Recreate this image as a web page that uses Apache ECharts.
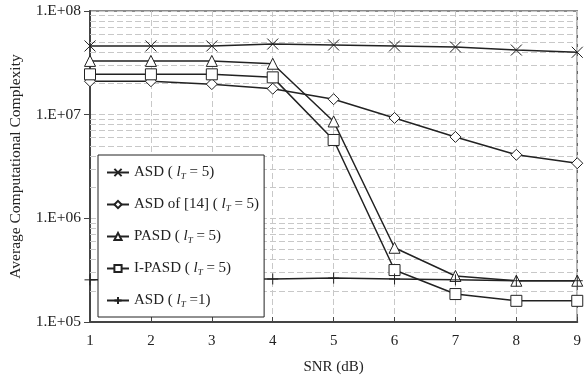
<!DOCTYPE html>
<html>
<head>
<meta charset="utf-8">
<script src="https://cdn.jsdelivr.net/npm/echarts@6/dist/echarts.min.js"></script>
<style>
  html, body { margin: 0; padding: 0; background: #fff; }
  #chart { width: 584px; height: 385px; }
</style>
</head>
<body>
<div id="chart"></div>
<script>
// SNR values (dB)
var snr = [1, 2, 3, 4, 5, 6, 7, 8, 9]

// average computational complexity
var asd5     = [4.6e7, 4.6e7, 4.6e7, 4.8e7, 4.7e7, 4.6e7, 4.5e7, 4.2e7, 4.0e7]
var asdRef14 = [2.1e7, 2.1e7, 1.97e7, 1.78e7, 1.41e7, 9.3e6, 6.1e6, 4.1e6, 3.4e6]
var pasd     = [3.3e7, 3.3e7, 3.3e7, 3.1e7, 8.6e6, 5.2e5, 2.78e5, 2.5e5, 2.5e5]
var ipasd    = [2.45e7, 2.45e7, 2.45e7, 2.29e7, 5.7e6, 3.17e5, 1.86e5, 1.6e5, 1.6e5]
var asd1     = [2.55e5, 2.55e5, 2.6e5, 2.6e5, 2.65e5, 2.6e5, 2.55e5, 2.5e5, 2.5e5]

var seriesNames = ['ASD5', 'ASD14', 'PASD', 'IPASD', 'ASD1']
var legendText = {
  ASD5: '{n|ASD ( }{i|l}{s|T}{n| = 5)}',
  ASD14: '{n|ASD of [14] ( }{i|l}{s|T}{n| = 5)}',
  PASD: '{n|PASD ( }{i|l}{s|T}{n| = 5)}',
  IPASD: '{n|I-PASD ( }{i|l}{s|T}{n| = 5)}',
  ASD1: '{n|ASD ( }{i|l}{s|T}{n| =1)}'
}

// minor log grid lines 2..9 x 10^n
var minorTicks = []
;[1e5, 1e6, 1e7].forEach(function (d) {
  for (var k = 2; k <= 9; k++) minorTicks.push(k * d)
})

var font = '"Liberation Serif", "Times New Roman", serif'
var ink = '#222'

function zip(ys) {
  return snr.map(function (x, i) { return [x, ys[i]] })
}

function lineSeries(name, ys, symbol, size) {
  return {
    name: name,
    type: 'line',
    data: zip(ys),
    symbol: symbol,
    symbolSize: size,
    showAllSymbol: true,
    z: 5,
    lineStyle: { color: ink, width: 1.5 },
    itemStyle: { color: '#fff', borderColor: ink, borderWidth: 1 }
  }
}

var crossPath = 'path://M0,0L10,10M10,0L0,10'
var plusPath = 'path://M5,0L5,10M0,5L10,5'

var chart = echarts.init(document.getElementById('chart'))

var option = {
  animation: false,
  backgroundColor: '#fff',
  textStyle: { fontFamily: font },
  grid: {
    left: 89, right: 4, top: 11, bottom: 63,
    show: true, borderColor: '#666', borderWidth: 1.5, backgroundColor: 'transparent'
  },
  legend: {
    data: seriesNames,
    orient: 'vertical',
    left: 98,
    top: 155,
    z: 20,
    itemWidth: 22,
    itemHeight: 9,
    itemGap: 15,
    padding: [9, 5, 8, 8],
    backgroundColor: '#fff',
    borderColor: ink,
    borderWidth: 1,
    formatter: function (name) { return legendText[name] },
    textStyle: {
      fontFamily: font,
      color: ink,
      rich: {
        n: { fontSize: 15, fontFamily: font, color: ink, lineHeight: 17 },
        i: { fontSize: 15, fontFamily: font, fontStyle: 'italic', color: ink, lineHeight: 17 },
        s: { fontSize: 9, fontFamily: font, fontStyle: 'italic', color: ink, lineHeight: 17, verticalAlign: 'bottom', padding: [8, 0, 0, 0] }
      }
    }
  },
  xAxis: {
    type: 'value',
    min: 1, max: 9, interval: 1,
    name: 'SNR (dB)',
    nameLocation: 'middle',
    nameGap: 38,
    nameTextStyle: { fontFamily: font, fontSize: 15, color: ink },
    axisLine: { lineStyle: { color: '#444', width: 2 } },
    axisTick: { inside: true, length: 5, lineStyle: { color: '#444' } },
    axisLabel: { fontFamily: font, fontSize: 15, color: ink, margin: 12 },
    splitLine: { show: true, lineStyle: { type: [6, 3], color: '#c8c8c8', width: 1 } }
  },
  yAxis: {
    type: 'log',
    logBase: 10,
    min: 1e5, max: 1e8,
    name: 'Average Computational Complexity',
    nameLocation: 'middle',
    nameGap: 66,
    nameTextStyle: { fontFamily: font, fontSize: 15.5, color: ink },
    axisLine: { show: true, lineStyle: { color: '#444', width: 2 } },
    axisTick: { show: true, length: 6, lineStyle: { color: '#444' } },
    axisLabel: {
      fontFamily: font, fontSize: 15.5, color: ink, margin: 9,
      formatter: function (v) { return '1.E+0' + Math.round(Math.log10(v)) }
    },
    splitLine: { show: true, lineStyle: { type: [6, 3], color: '#c8c8c8', width: 1 } }
  },
  series: [
    {
      name: 'grid',
      type: 'line',
      data: [[1, 1e6]],
      symbol: 'none',
      lineStyle: { opacity: 0 },
      z: 1,
      silent: true,
      markLine: {
        silent: true,
        symbol: 'none',
        label: { show: false },
        lineStyle: { type: [6, 3], color: '#c8c8c8', width: 1 },
        data: minorTicks.map(function (v) { return { yAxis: v } })
      }
    },
    lineSeries('ASD5', asd5, crossPath, 11),
    lineSeries('ASD14', asdRef14, 'diamond', 11),
    lineSeries('PASD', pasd, 'triangle', 11),
    lineSeries('IPASD', ipasd, 'rect', 11),
    lineSeries('ASD1', asd1, plusPath, 11)
  ]
}

chart.setOption(option)
</script>
</body>
</html>
